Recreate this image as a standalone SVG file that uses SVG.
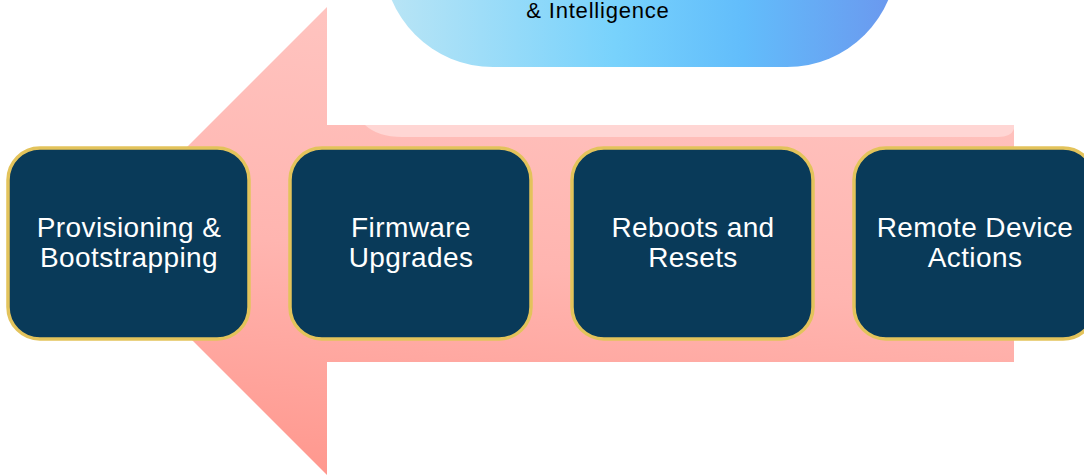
<svg xmlns="http://www.w3.org/2000/svg" width="1084" height="476" viewBox="0 0 1084 476">
  <defs>
    <linearGradient id="arrowGrad" x1="0.3" y1="0" x2="0.1" y2="1">
      <stop offset="0" stop-color="#ffc4c0"/>
      <stop offset="0.5" stop-color="#ffb5b0"/>
      <stop offset="1" stop-color="#ff968c"/>
    </linearGradient>
    <linearGradient id="pillGrad" x1="0" y1="0" x2="1" y2="0">
      <stop offset="0" stop-color="#bae5f5"/>
      <stop offset="0.45" stop-color="#78d2fc"/>
      <stop offset="0.7" stop-color="#62bdfb"/>
      <stop offset="1" stop-color="#6b97ee"/>
    </linearGradient>
    <style>
      .box { fill: #093a59; stroke: #e3c35b; stroke-width: 3.5; }
      .label { font-family: "Liberation Sans", Arial, sans-serif; font-size: 28px; fill: #ffffff; text-anchor: middle; letter-spacing: 0.4px; }
      .top { font-family: "Liberation Sans", Arial, sans-serif; font-size: 22px; fill: #000000; text-anchor: middle; letter-spacing: 0.8px; }
    </style>
  </defs>

  <g id="arrow">
    <polygon points="93,241 327,7 327,125 1014,125 1014,362 327,362 327,475" fill="url(#arrowGrad)"/>
    <path d="M365,125 H1014 V129 Q1011,137 998,137 H402 Q378,137 365,125 Z" fill="#ffd6d4"/>
  </g>

  <g id="top-node">
    <rect x="383" y="-200" width="514" height="267" rx="110" ry="110" fill="url(#pillGrad)"/>
    <text class="top" x="598" y="18">&amp; Intelligence</text>
  </g>

  <g id="connectors"></g>

  <g id="node-provisioning">
    <rect class="box" x="8" y="148" width="241" height="191" rx="32" ry="32"/>
    <text class="label" x="129" y="237">Provisioning &amp;</text>
    <text class="label" x="129" y="267">Bootstrapping</text>
  </g>

  <g id="node-firmware">
    <rect class="box" x="290" y="148" width="241" height="191" rx="32" ry="32"/>
    <text class="label" x="411" y="237">Firmware</text>
    <text class="label" x="411" y="267">Upgrades</text>
  </g>

  <g id="node-reboots">
    <rect class="box" x="572" y="148" width="241" height="191" rx="32" ry="32"/>
    <text class="label" x="693" y="237">Reboots and</text>
    <text class="label" x="693" y="267">Resets</text>
  </g>

  <g id="node-remote">
    <rect class="box" x="854" y="148" width="241" height="191" rx="32" ry="32"/>
    <text class="label" x="975" y="237">Remote Device</text>
    <text class="label" x="975" y="267">Actions</text>
  </g>
</svg>
